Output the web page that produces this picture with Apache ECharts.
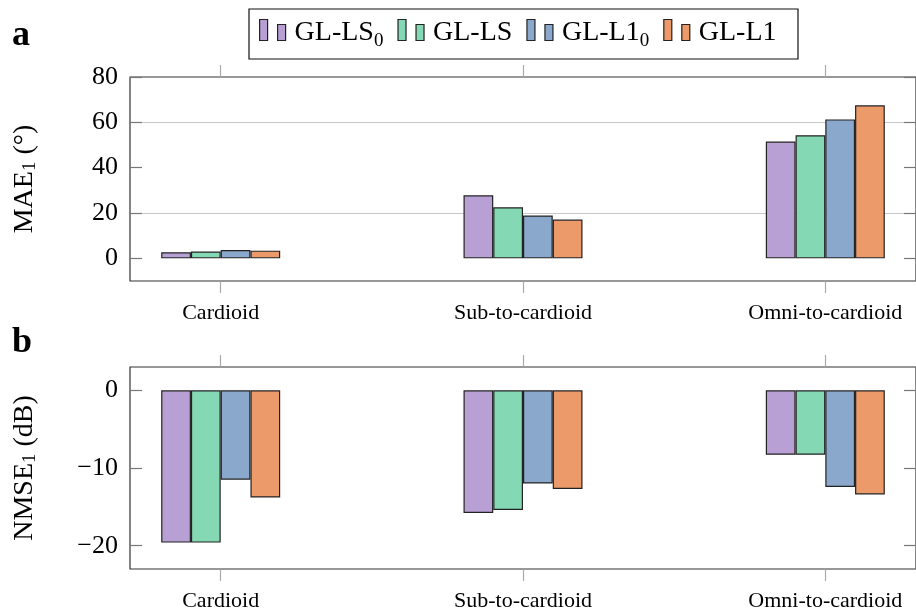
<!DOCTYPE html>
<html><head><meta charset="utf-8">
<script src="https://cdn.jsdelivr.net/npm/echarts@6/dist/echarts.min.js"></script>
<style>html,body{margin:0;padding:0;background:#fff}#c{width:916px;height:612px}</style>
</head><body><div id="c"></div><script>
// ---- data ----
const categories = ['Cardioid', 'Sub-to-cardioid', 'Omni-to-cardioid'];
const seriesNames = ['GL-LS_0', 'GL-LS', 'GL-L1_0', 'GL-L1'];
const maeLS0 = [2.7, 27.8, 51.5];
const maeLS  = [3.0, 22.5, 54.3];
const maeL10 = [3.7, 18.9, 61.3];
const maeL1  = [3.4, 17.1, 67.5];
const nmseLS0 = [-19.6, -15.8, -8.3];
const nmseLS  = [-19.6, -15.4, -8.3];
const nmseL10 = [-11.5, -12.0, -12.45];
const nmseL1  = [-13.8, -12.7, -13.4];
const maeTicks = [0, 20, 40, 60, 80];
const nmseTicks = [-20, -10, 0];
const catPositions = [0, 1, 2];

// ---- style ----
const colors = ['#b9a0d4', '#84d9b4', '#8aa8cb', '#ec9a69'];
const FONT = '"Liberation Serif", "DejaVu Serif", serif';
const GRIDC = '#c8c8c8';

function splitColors(min, max, step, ticks) {
  const arr = [];
  const n = Math.round((max - min) / step);
  for (let i = 0; i <= n; i++) {
    const v = min + i * step;
    arr.push(ticks.some(t => Math.abs(t - v) < 1e-6) ? GRIDC : 'rgba(0,0,0,0)');
  }
  return arr;
}
const rich = {
  n: { fontFamily: FONT, fontSize: 28, color: '#000', lineHeight: 30 },
  s: { fontFamily: FONT, fontSize: 19, color: '#000', lineHeight: 12, verticalAlign: 'bottom' }
};
const legendRich = {
  n: { fontFamily: FONT, fontSize: 28, color: '#000', lineHeight: 22, padding: [5, 0, 0, 4] },
  s: { fontFamily: FONT, fontSize: 19, color: '#000', lineHeight: 2, padding: [23, 0, 0, 0] }
};
function toRich(name) {
  const m = name.match(/^(.*)_(\d)$/);
  return m ? '{n|' + m[1] + '}{s|' + m[2] + '}' : '{n|' + name + '}';
}

function xAxisDef(gridIndex, position, labels) {
  return {
    type: 'value', gridIndex, position, min: -0.3, max: 2.3,
    axisLine: { show: false, onZero: false },
    splitLine: { show: false },
    axisTick: { show: true, customValues: catPositions, inside: false, length: 12, lineStyle: { color: '#aaa', width: 1.2 } },
    axisLabel: labels ? {
      show: true, customValues: catPositions, margin: 21,
      fontFamily: FONT, fontSize: 22, color: '#000',
      formatter: v => categories[Math.round(v)] || ''
    } : { show: false }
  };
}
function yAxisDef(gridIndex, position, min, max, interval, ticks, nameRich) {
  const left = position === 'left';
  return {
    type: 'value', gridIndex, position, min, max, interval,
    name: left ? nameRich : '', nameLocation: 'middle', nameGap: 90, nameRotate: 90,
    nameTextStyle: { rich },
    axisLine: { show: false, onZero: false },
    splitLine: left ? { show: true, lineStyle: { color: splitColors(min, max, interval, ticks), width: 1.2 } } : { show: false },
    axisTick: { show: true, customValues: ticks, inside: true, length: 12, lineStyle: { color: '#777', width: 1.2 } },
    axisLabel: left ? {
      show: true, customValues: ticks, margin: 12,
      fontFamily: FONT, fontSize: 26, color: '#000',
      formatter: v => (v < 0 ? '\u2212' + Math.abs(v) : String(v))
    } : { show: false }
  };
}

const maeSets = [maeLS0, maeLS, maeL10, maeL1];
const nmseSets = [nmseLS0, nmseLS, nmseL10, nmseL1];
const series = [];
[maeSets, nmseSets].forEach((sets, g) => {
  sets.forEach((vals, k) => {
    series.push({
      type: 'bar', name: seriesNames[k],
      xAxisIndex: g * 2, yAxisIndex: g * 2,
      barWidth: 29.75, barGap: '0%',
      itemStyle: { color: colors[k], borderColor: '#222', borderWidth: 1.2 },
      data: catPositions.map((p, i) => [p, vals[i]]),
      z: 3
    });
  });
});

const chart = echarts.init(document.getElementById('c'), null, { renderer: 'canvas' });
chart.setOption({
  animation: false,
  backgroundColor: '#fff',
  grid: [
    { left: 130, top: 77, right: -4, height: 204, show: true, borderColor: '#333', borderWidth: 1.2, backgroundColor: 'transparent' },
    { left: 130, top: 367, right: -4, height: 205, show: true, borderColor: '#333', borderWidth: 1.2, backgroundColor: 'transparent' }
  ],
  xAxis: [
    xAxisDef(0, 'bottom', true), xAxisDef(0, 'top', false),
    xAxisDef(1, 'bottom', true), xAxisDef(1, 'top', false)
  ],
  yAxis: [
    yAxisDef(0, 'left', -10, 80, 10, maeTicks, '{n|MAE}{s|1}{n| (°)}'),
    yAxisDef(0, 'right', -10, 80, 10, maeTicks, ''),
    yAxisDef(1, 'left', -23, 3, 1, nmseTicks, '{n|NMSE}{s|1}{n| (dB)}'),
    yAxisDef(1, 'right', -23, 3, 1, nmseTicks, '')
  ],
  legend: {
    data: seriesNames, left: 259, top: 9,
    itemWidth: 26, itemHeight: 21, itemGap: 14,
    padding: 0,
    icon: 'path://M0,0h8v21h-8zM18,5h8v16h-8z',
    itemStyle: { borderColor: '#222', borderWidth: 1.2 },
    formatter: name => toRich(name),
    textStyle: { rich: legendRich },
    selectedMode: false
  },
  graphic: [
    { type: 'rect', shape: { x: 249, y: 9, width: 549, height: 50 }, style: { fill: 'none', stroke: '#111', lineWidth: 1.2 }, silent: true },
    { type: 'text', left: 12, top: 18, style: { text: 'a', font: 'bold 36px ' + FONT, fill: '#000' } },
    { type: 'text', left: 12, top: 325, style: { text: 'b', font: 'bold 36px ' + FONT, fill: '#000' } }
  ],
  series
});
</script></body></html>
